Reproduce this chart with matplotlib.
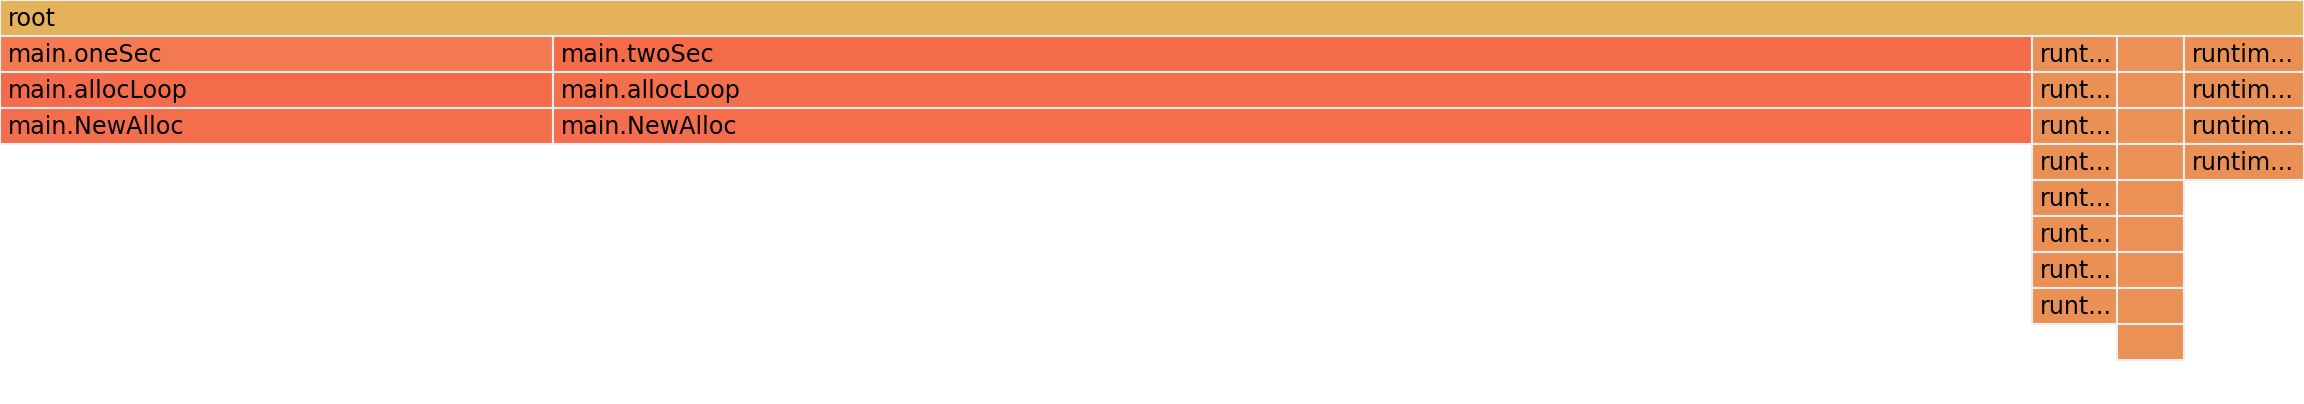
import numpy as np
import matplotlib.pyplot as plt

### FLAMEGRAPH DATA (samples per top level function, out of 1000)
total = 1000
funcs = ['main.oneSec', 'main.twoSec', 'runt...', '', 'runtim...']
samples = [240, 642, 37, 29, 52]

### stack below root for each function (depth 1 .. n)
stacks = [
    ['main.oneSec', 'main.allocLoop', 'main.NewAlloc'],
    ['main.twoSec', 'main.allocLoop', 'main.NewAlloc'],
    ['runt...'] * 8,
    [''] * 9,
    ['runtim...'] * 4,
]
stack_colors = [
    ['#f37a50', '#f36b4b', '#f36e4d'],
    ['#f46b4a', '#f46f4c', '#f46d4c'],
    ['#ea9055'] * 8,
    ['#eb9155'] * 9,
    ['#eb9055'] * 4,
]
root_color = '#e3b25b'

W, H = 2304, 404
ROW = 36  # pixel height of one row

fig = plt.figure(figsize=(W / 100, H / 100), dpi=100)
ax = fig.add_axes([0, 0, 1, 1])
ax.set_xlim(0, total)
ax.set_ylim(H / ROW, 0)
ax.axis('off')

def cell(x, w, depth, label, color):
    ax.barh(depth + 0.5, w, height=1, left=x, color=color,
            edgecolor='#eeeeee', linewidth=1.5)
    if label:
        ax.annotate(label, (x, depth + 26 / ROW), xytext=(5.8, 0),
                    textcoords='offset points', va='baseline', ha='left',
                    fontsize=17.2, color='black', family='DejaVu Sans')

### root
cell(0, total, 0, 'root', root_color)

### children
left = np.concatenate([[0], np.cumsum(samples)[:-1]])
for x, w, names, cols in zip(left, samples, stacks, stack_colors):
    for d, (name, c) in enumerate(zip(names, cols)):
        cell(x, w, d + 1, name, c)

fig.savefig('out.png', dpi=100)
